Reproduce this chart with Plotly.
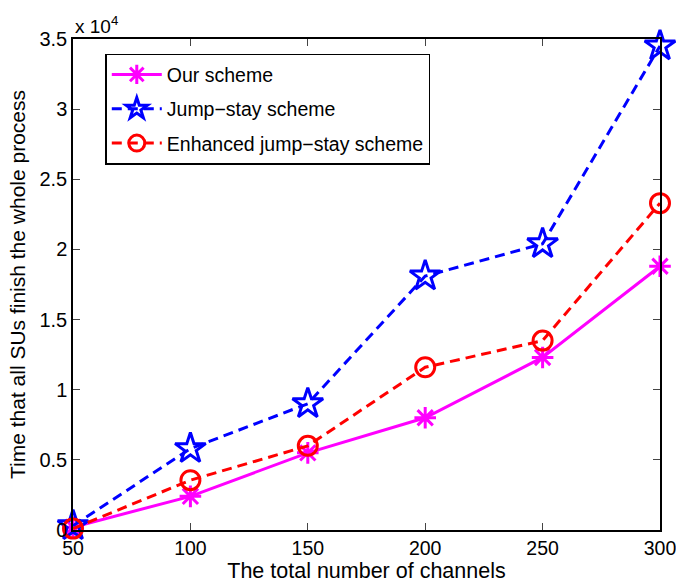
import plotly.graph_objects as go

channels = [50, 100, 150, 200, 250, 300]
our_scheme = [200, 2400, 5500, 8000, 12300, 18800]
jump_stay = [300, 5800, 9000, 18100, 20400, 34500]
enhanced_js = [100, 3550, 6000, 11600, 13500, 23300]
y_ticks = [0, 5000, 10000, 15000, 20000, 25000, 30000, 35000]
y_tick_labels = ["0", "0.5", "1", "1.5", "2", "2.5", "3", "3.5"]

font = "Liberation Sans, Arial, Helvetica, sans-serif"

fig = go.Figure()
fig.add_trace(go.Scatter(
    x=channels, y=our_scheme, name="Our scheme", mode="lines+markers", legendgroup="a",
    line=dict(color="#ff00ff", width=3),
    marker=dict(symbol="asterisk-open", size=18, color="#ff00ff", line=dict(width=3, color="#ff00ff")),
    cliponaxis=False))
fig.add_trace(go.Scatter(
    x=channels, y=jump_stay, name="Jump\u2212stay scheme", mode="lines+markers", legendgroup="b",
    line=dict(color="#0000ff", width=3, dash="10px,6px"),
    marker=dict(symbol="star-open", size=23, color="#0000ff", line=dict(width=3, color="#0000ff")),
    cliponaxis=False))
fig.add_trace(go.Scatter(
    x=channels, y=enhanced_js, name="Enhanced jump\u2212stay scheme", mode="lines+markers", legendgroup="c",
    line=dict(color="#ff0000", width=3, dash="10px,6px"),
    marker=dict(symbol="circle-open", size=19, color="#ff0000", line=dict(width=3, color="#ff0000")),
    cliponaxis=False))

fig.update_layout(
    width=676, height=587,
    margin=dict(l=73, r=16, t=39, b=57),
    paper_bgcolor="white", plot_bgcolor="white",
    font=dict(family=font, size=18, color="black"),
    showlegend=True,
    legend=dict(x=0.055, y=0.97, xanchor="left", yanchor="top", traceorder="grouped",
                bgcolor="white", bordercolor="black", borderwidth=1.5,
                font=dict(size=19.5, family=font), tracegroupgap=6, itemwidth=50),
    xaxis=dict(range=[50, 300], tickvals=channels, ticks="inside", ticklen=7, automargin=False,
               ticklabeloverflow="allow",
               showline=True, linecolor="black", linewidth=1.5, mirror="ticks",
               showgrid=False, zeroline=False, tickfont=dict(size=19.5),
               title=dict(text="The total number of channels", font=dict(size=21.5), standoff=0)),
    yaxis=dict(range=[0, 35000], tickvals=y_ticks, ticktext=y_tick_labels, ticks="inside", ticklen=7, automargin=False,
               ticklabeloverflow="allow",
               showline=True, linecolor="black", linewidth=1.5, mirror="ticks",
               showgrid=False, zeroline=False, tickfont=dict(size=20),
               title=dict(text="Time that all SUs finish the whole process", font=dict(size=21), standoff=8)),
    annotations=[dict(xref="paper", yref="paper", x=0.0, y=1.0, xanchor="left", yanchor="bottom",
                      text="x 10<sup>4</sup>", showarrow=False, font=dict(size=19, family=font), xshift=0, yshift=0)],
)

fig.write_html("out.html", config={"displayModeBar": False},
               post_script="document.body.style.margin='0';document.body.style.overflow='hidden';")
